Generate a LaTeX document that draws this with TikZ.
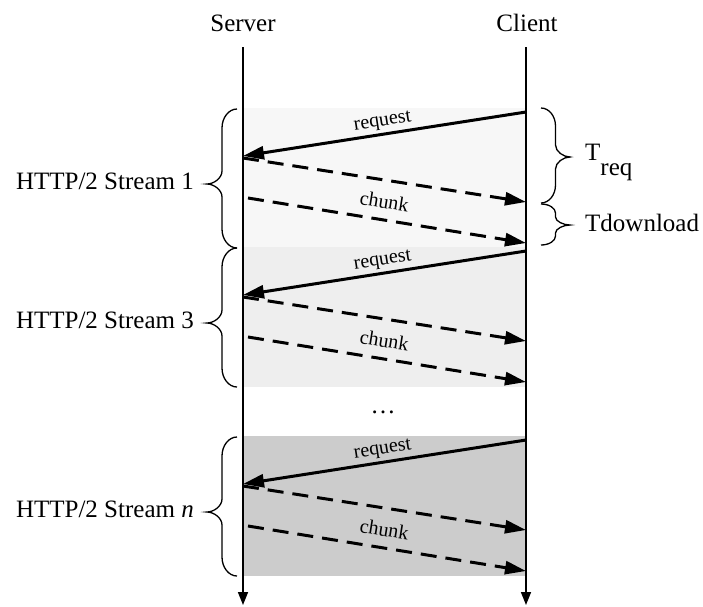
\documentclass[tikz,border=0pt]{standalone}
\usepackage{fontspec}
\setmainfont{Liberation Serif}
\usetikzlibrary{arrows.meta}

\definecolor{s1fill}{HTML}{F7F7F7}
\definecolor{s3fill}{HTML}{EEEEEE}
\definecolor{snfill}{HTML}{CCCCCC}

\tikzset{
  lifeline/.style={line width=1.6pt, -{Triangle[length=13pt,width=10pt]}},
  reqmsg/.style={line width=3pt, -{Triangle[length=21pt,width=13pt]}},
  datamsg/.style={line width=3pt, dash pattern=on 16pt off 9pt,
                  -{Triangle[length=21pt,width=13pt]}},
  bracestyle/.style={line width=1.3pt},
  biglabel/.style={font=\fontsize{25}{30}\selectfont, inner sep=0pt},
  msglabel/.style={font=\fontsize{20}{24}\selectfont, sloped, inner sep=0pt},
}

% curly brace: end x, tip x, top y, bottom y, tip y, end radius, tip radius
\newcommand\curlybrace[7]{%
  \pgfmathsetmacro\cbMid{(#1+#2)/2}%
  \pgfmathsetmacro\cbEnd{#1+0.55*(\cbMid-(#1))}%
  \pgfmathsetmacro\cbTip{\cbMid+0.55*((#2)-\cbMid)}%
  \draw[bracestyle] (#1,#3) .. controls (\cbEnd,#3) and (\cbMid,#3+0.45*#6) .. (\cbMid,#3+#6)
    -- (\cbMid,#5-#7) .. controls (\cbMid,#5-0.45*#7) and (\cbTip,#5) .. (#2,#5)
    .. controls (\cbTip,#5) and (\cbMid,#5+0.45*#7) .. (\cbMid,#5+#7)
    -- (\cbMid,#4-#6) .. controls (\cbMid,#4-0.45*#6) and (\cbEnd,#4) .. (#1,#4);
}

\begin{document}
\begin{tikzpicture}[x=1pt, y=-1pt]
\useasboundingbox (0,0) rectangle (703,606);

% party headers
\node[biglabel, anchor=base] (srv) at (243,31) {Server};
\node[biglabel, anchor=base] (cli) at (527,31) {Client};

% one shaded band per stream, with its request and two chunks
\foreach \ytop/\col/\lab/\k in {108/s1fill/1/a, 247/s3fill/3/b, 436/snfill/{\textit{n}}/c}{
  \fill[\col] (243,\ytop) rectangle (526,\ytop+140);
  \coordinate (rq\k c) at (526,\ytop+4);
  \coordinate (rq\k s) at (243,\ytop+48);
  \coordinate (da\k s) at (243,\ytop+50);
  \coordinate (da\k c) at (526,\ytop+94);
  \coordinate (db\k s) at (248,\ytop+90);
  \coordinate (db\k c) at (526,\ytop+135);
  \draw[reqmsg] (rq\k c) -- node[msglabel, above=2.5pt] {request} (rq\k s);
  \draw[datamsg] (da\k s) -- (da\k c);
  \draw[datamsg] (db\k s) -- node[msglabel, above=10pt, pos=0.48] {chunk} (db\k c);
  \node[biglabel, anchor=base east] (lab\k) at (194,\ytop+81) {HTTP/2 Stream \lab};
  \curlybrace{237}{207}{\ytop+1}{\ytop+140}{\ytop+76}{19}{13}
}

\node[biglabel, anchor=base] (dots) at (383,413) {…};

% lifelines
\coordinate (srvtop) at (243,47);
\coordinate (srvbot) at (243,605);
\coordinate (clitop) at (526,47);
\coordinate (clibot) at (526,605);
\draw[lifeline] (srvtop) -- (srvbot);
\draw[lifeline] (clitop) -- (clibot);

% timing braces on the client side
\curlybrace{541}{570}{108}{203}{157}{18}{12}
\curlybrace{541}{570}{204}{245}{225}{9}{8}
\node[biglabel, anchor=base west] (treq) at (585,160) {T\raisebox{-15pt}{req}};
\node[biglabel, anchor=base west] (tdl) at (585,231) {Tdownload};
\end{tikzpicture}
\end{document}
